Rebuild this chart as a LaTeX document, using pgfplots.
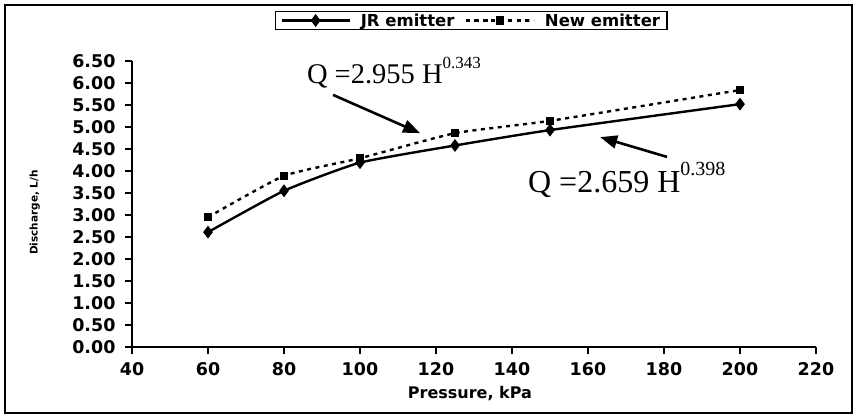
\documentclass[border=0pt]{standalone}
\usepackage{fontspec}
\setmainfont{Liberation Serif}
\setsansfont{DejaVu Sans}
\usepackage{pgfplots}
\pgfplotsset{compat=1.18}
\usetikzlibrary{arrows.meta}

\begin{document}
\begin{tikzpicture}
\begin{axis}[
    scale only axis,
    width=684pt, height=286pt,
    xmin=40, xmax=220, ymin=0, ymax=6.5,
    axis x line*=bottom, axis y line*=left,
    axis line style={line width=1.8pt},
    xtick={40,60,...,220},
    ytick={0,0.5,1,1.5,2,2.5,3,3.5,4,4.5,5,5.5,6,6.5},
    tick align=outside, major tick length=7pt,
    tick style={line width=1.6pt, black},
    /pgf/number format/assume math mode=true,
    yticklabel style={xshift=-6pt, /pgf/number format/.cd, fixed, fixed zerofill, precision=2},
    xticklabel style={yshift=-5pt, /pgf/number format/.cd, fixed, precision=0},
    every tick label/.append style={font=\sffamily\bfseries\fontsize{17.5}{20}\selectfont},
    xlabel={Pressure, kPa},
    every axis x label/.style={at={(axis description cs:0.494,0)}, anchor=center, yshift=-47pt,
        font=\sffamily\bfseries\fontsize{16}{18}\selectfont},
    ylabel={Discharge, L/h},
    every axis y label/.style={at={(axis description cs:-0.142,0.47)}, rotate=90, anchor=center,
        font=\sffamily\bfseries\fontsize{10.5}{12}\selectfont},
    clip=false,
    legend columns=2,
    legend style={at={(0.496,1.1416)}, anchor=center, draw=black, line width=1.6pt,
        fill=white, inner xsep=5pt, inner ysep=0pt,
        font=\sffamily\bfseries\fontsize{16.5}{18}\selectfont,
        /tikz/every even column/.append style={column sep=8pt},
        /tikz/every odd column/.append style={column sep=8pt}},
    legend image code/.code={
        \draw[mark repeat=2, mark phase=2, #1] plot coordinates {(0pt,0pt) (34pt,0pt) (68pt,0pt)};
    },
]
\addplot[black, line width=2.4pt, smooth, tension=0.3, mark=diamond*, mark size=4.5pt,
    mark options={solid}] coordinates {
    (60,2.61) (80,3.55) (100,4.19) (125,4.58) (150,4.93) (200,5.52)
};
\addlegendentry{JR emitter}
\addplot[black, line width=2.4pt, dash pattern=on 4pt off 4.5pt, smooth, tension=0.3,
    mark=square*, mark size=3pt, mark options={solid}] coordinates {
    (60,2.95) (80,3.89) (100,4.29) (125,4.86) (150,5.14) (200,5.84)
};
\addlegendentry{New emitter}

\node[anchor=base west, inner sep=0, font=\fontsize{28.5}{32}\selectfont] at (axis cs:86,5.98)
    {Q =2.955 H\raisebox{0.55em}{\fontsize{17}{17}\selectfont 0.343}};
\node[anchor=base west, inner sep=0, font=\fontsize{32}{35}\selectfont] at (axis cs:144.2,3.5)
    {Q =2.659 H\raisebox{0.55em}{\fontsize{20}{20}\selectfont 0.398}};
\draw[line width=2.6pt, -{Triangle[length=17pt,width=13pt]}] (axis cs:92.9,5.73) -- (axis cs:115.8,4.86);
\draw[line width=2.6pt, -{Triangle[length=17pt,width=13pt]}] (axis cs:180.8,4.32) -- (axis cs:163.2,4.77);
\end{axis}
\draw[line width=2pt] ([xshift=-127pt,yshift=-66pt]current axis.south west)
    rectangle ([xshift=36pt,yshift=56pt]current axis.north east);
\path ([xshift=-132pt,yshift=-69pt]current axis.south west)
    rectangle ([xshift=39pt,yshift=61pt]current axis.north east);
\end{tikzpicture}
\end{document}
